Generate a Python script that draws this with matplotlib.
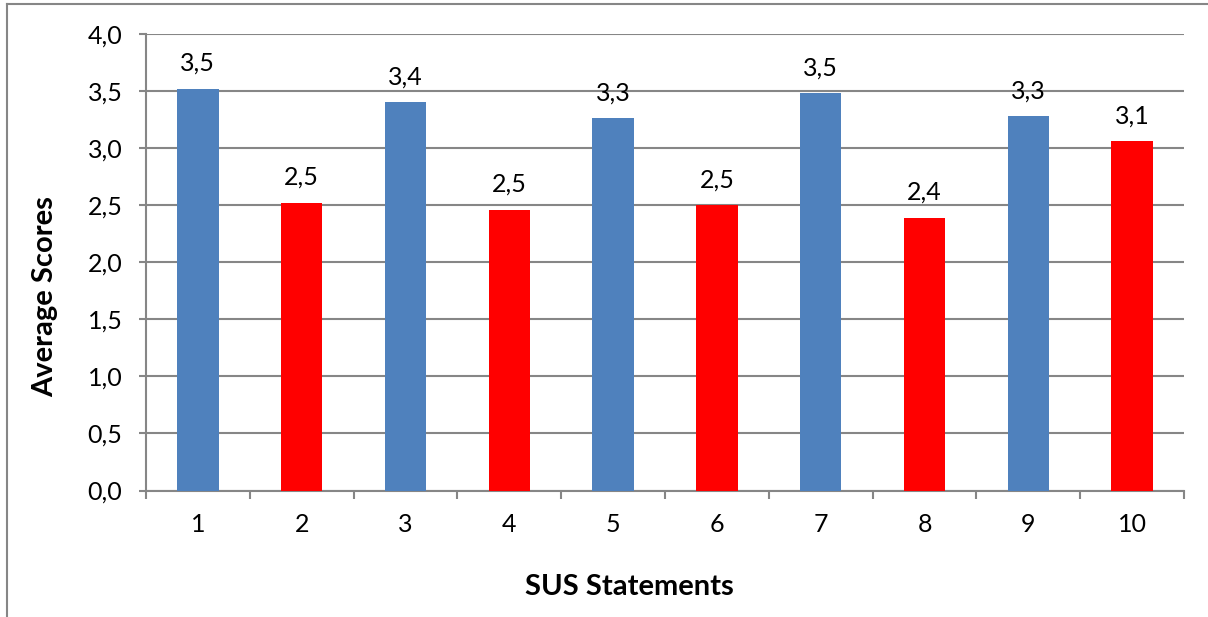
import matplotlib.pyplot as plt
from matplotlib.lines import Line2D

statements = [1, 2, 3, 4, 5, 6, 7, 8, 9, 10]
scores = [3.52, 2.52, 3.40, 2.46, 3.26, 2.50, 3.48, 2.39, 3.28, 3.06]
bar_colors = ['#4F81BD', '#FF0000', '#4F81BD', '#FF0000', '#4F81BD',
              '#FF0000', '#4F81BD', '#FF0000', '#4F81BD', '#FF0000']
yticks = [0.0, 0.5, 1.0, 1.5, 2.0, 2.5, 3.0, 3.5, 4.0]

plt.rcParams['font.family'] = ['Lato', 'DejaVu Sans']

fig = plt.figure(figsize=(12.08, 6.17), dpi=100)
ax = fig.add_axes([146 / 1208, 1 - 490.5 / 617, (1184 - 146) / 1208, (490.5 - 34) / 617])

x = list(range(len(statements)))
bars = ax.bar(x, scores, width=0.4, color=bar_colors, zorder=3)

for xi, v in zip(x, scores):
    ax.annotate(f'{v:.1f}'.replace('.', ','), (xi, v), xytext=(0, 10),
                textcoords='offset points', ha='center', va='bottom', fontsize=18)

ax.set_xlim(-0.5, len(statements) - 0.5)
ax.set_ylim(0, 4.0)
ax.set_yticks(yticks)
ax.set_yticklabels([f'{t:.1f}'.replace('.', ',') for t in yticks], fontsize=18)
ax.set_xticks(x)
ax.set_xticklabels([str(s) for s in statements], fontsize=18)
ax.set_xticks([i - 0.5 for i in range(len(statements) + 1)], minor=True)
ax.tick_params(axis='x', which='major', length=0, pad=16)
ax.tick_params(axis='x', which='minor', length=6, width=1.5, color='#868686')
ax.tick_params(axis='y', length=5, width=1.5, color='#868686', pad=12)

ax.grid(axis='y', color='#868686', linewidth=1.5, zorder=0)
for side in ['top', 'right']:
    ax.spines[side].set_visible(False)
for side in ['left', 'bottom']:
    ax.spines[side].set_color('#868686')
    ax.spines[side].set_linewidth(1.5)

# axis titles placed in figure pixels as in the source chart
fig.text(629 / 1208, 1 - 587 / 617, 'SUS Statements', fontsize=21, fontweight='bold',
         ha='center', va='center')
fig.text(45 / 1208, 1 - 297 / 617, 'Average Scores', fontsize=21, fontweight='bold',
         ha='center', va='center', rotation=90)

# outer chart frame
fig.add_artist(Line2D([7 / 1208, 7 / 1208], [0, 1 - 4 / 617], color='#868686', linewidth=1.5))
fig.add_artist(Line2D([7 / 1208, 1], [1 - 4 / 617, 1 - 4 / 617], color='#868686', linewidth=1.5))

fig.savefig('out.png', dpi=100)
